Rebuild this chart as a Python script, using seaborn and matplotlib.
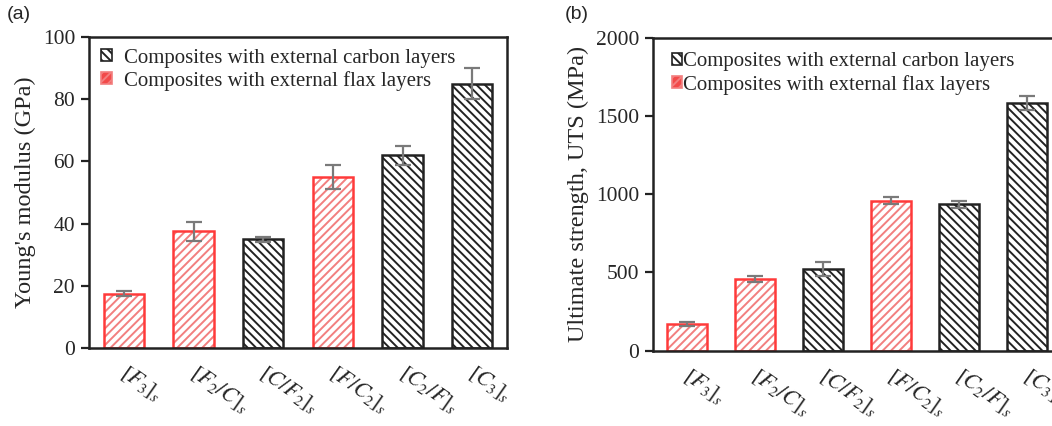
import pandas as pd
import numpy as np
import matplotlib
matplotlib.use('Agg')
import matplotlib.pyplot as plt
import seaborn as sns
from matplotlib.patches import Patch
from matplotlib.transforms import ScaledTranslation

# data
laminates = ['$[F_3]_s$', '$[F_2/C]_s$', '$[C/F_2]_s$', '$[F/C_2]_s$', '$[C_2/F]_s$', '$[C_3]_s$']
outer = ['flax', 'flax', 'carbon', 'flax', 'carbon', 'carbon']
modulus = [17.5, 37.5, 35.0, 55.0, 62.0, 85.0]
modulus_err = [0.7, 3.0, 0.8, 4.0, 3.0, 5.0]
uts = [170, 460, 520, 960, 935, 1585]
uts_err = [10, 20, 45, 20, 20, 45]

legend_labels = ['Composites with external carbon layers', 'Composites with external flax layers']

hatch_col = {'carbon': '#222222', 'flax': '#f27f7f'}
edge_col = {'carbon': '#222222', 'flax': '#ff3a3a'}

sns.set_style('white')
plt.rcParams['font.family'] = ['Liberation Serif', 'DejaVu Serif']
plt.rcParams['mathtext.fontset'] = 'stix'
plt.rcParams['hatch.linewidth'] = 1.4

df = pd.DataFrame({'laminate': laminates, 'outer': outer,
                   'modulus': modulus, 'modulus_err': modulus_err,
                   'uts': uts, 'uts_err': uts_err})

fig = plt.figure(figsize=(10.52, 4.26), dpi=100)
ax1 = fig.add_axes([0.0846, 0.183, 0.3974, 0.730])
ax2 = fig.add_axes([0.6207, 0.177, 0.3879, 0.734])


def draw_panel(ax, col, errcol, ymax, ystep, ylabel):
    hatch_pal = [hatch_col[o] for o in df['outer']]
    edge_pal = [edge_col[o] for o in df['outer']]
    # hatch layer
    sns.barplot(data=df, x='laminate', y=col, hue='laminate', palette=hatch_pal,
                legend=False, width=0.58, linewidth=0, ax=ax, errorbar=None)
    for p, o in zip(ax.patches, df['outer']):
        p.set_facecolor('white')
        p.set_edgecolor(hatch_col[o])
        p.set_hatch('////' if o == 'flax' else '\\\\\\\\')
    n = len(ax.patches)
    # outline layer
    sns.barplot(data=df, x='laminate', y=col, hue='laminate', palette=edge_pal,
                legend=False, width=0.58, fill=False, linewidth=1.8, ax=ax, errorbar=None)
    for p, o in zip(ax.patches[n:], df['outer']):
        p.set_edgecolor(edge_col[o])
        p.set_linewidth(1.8)
    ax.errorbar(np.arange(len(df)), df[col], yerr=df[errcol], fmt='none',
                ecolor='#7a7a7a', elinewidth=1.6, capsize=6, capthick=1.6, zorder=5)

    ax.set_xlim(-0.5, len(df) - 0.5)
    ax.set_ylim(0, ymax)
    ax.set_yticks(np.arange(0, ymax + 1, ystep))
    ax.set_xlabel('')
    ax.set_ylabel(ylabel, fontsize=17.5, labelpad=5)
    ax.tick_params(axis='y', which='both', left=True, length=6, width=1.6,
                   color='#222222', labelsize=15.5, pad=4)
    ax.tick_params(axis='x', length=0, labelsize=16, pad=10)
    for lab in ax.get_xticklabels():
        lab.set_rotation(-35)
        lab.set_ha('left')
        lab.set_transform(lab.get_transform() + ScaledTranslation(-0.08, 0, fig.dpi_scale_trans))
    for s in ax.spines.values():
        s.set_color('#222222')
        s.set_linewidth(1.8)

    handles = [Patch(facecolor='white', edgecolor='#222222', hatch='\\\\\\\\', linewidth=1.2),
               Patch(facecolor='#f24a4a', edgecolor='#f27f7f', hatch='////', linewidth=1.2)]
    return handles


h1 = draw_panel(ax1, 'modulus', 'modulus_err', 100, 20, "Young's modulus (GPa)")
ax1.legend(h1, legend_labels, loc='upper left', bbox_to_anchor=(-0.005, 1.01), frameon=False,
           fontsize=15, handlelength=0.5, handleheight=0.5, handletextpad=0.6,
           labelspacing=0.15, borderaxespad=0.3)

h2 = draw_panel(ax2, 'uts', 'uts_err', 2000, 500, 'Ultimate strength, UTS (MPa)')
ax2.legend(h2, legend_labels, loc='upper left', bbox_to_anchor=(0.01, 1.0), frameon=False,
           fontsize=15, handlelength=0.5, handleheight=0.5, handletextpad=0.05,
           labelspacing=0.15, borderaxespad=0.3)

fig.text(0.006, 0.955, '(a)', fontsize=14, family='Liberation Sans')
fig.text(0.537, 0.955, '(b)', fontsize=14, family='Liberation Sans')

fig.savefig('out.png', dpi=100)
